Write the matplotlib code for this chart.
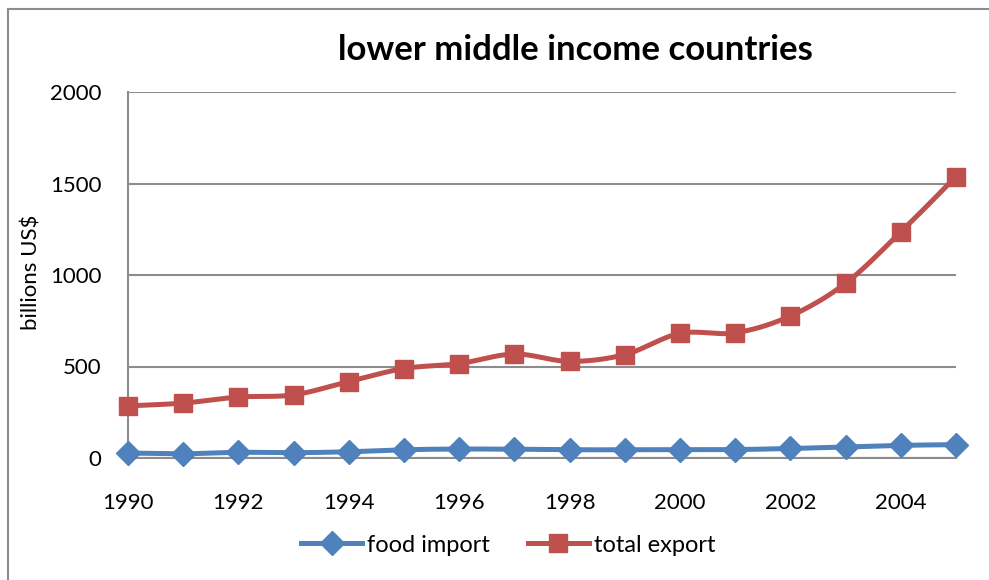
import numpy as np
import matplotlib.pyplot as plt
from matplotlib.lines import Line2D

years = list(range(1990, 2006))
food_import = [27, 23, 31, 29, 34, 45, 49, 48, 45, 45, 45, 46, 52, 60, 69, 73]
total_export = [285, 300, 333, 345, 418, 489, 516, 568, 528, 565, 681, 684, 776, 955, 1235, 1538]

BLUE = '#4F81BD'
RED = '#C0504D'
GRID = '#8C8C8C'

plt.rcParams['font.family'] = ['Lato', 'DejaVu Sans']


def smooth(x, y, n=20):
    # Catmull-Rom style curve through the points, like a spreadsheet "smoothed line"
    x = np.asarray(x, float)
    y = np.asarray(y, float)
    px = np.concatenate([[x[0]], x, [x[-1]]])
    py = np.concatenate([[y[0]], y, [y[-1]]])
    xs, ys = [], []
    t = np.linspace(0, 1, n, endpoint=False)
    for i in range(1, len(px) - 2):
        p0, p1, p2, p3 = [np.array([px[j], py[j]]) for j in (i - 1, i, i + 1, i + 2)]
        c1 = p1 + (p2 - p0) / 6
        c2 = p2 - (p3 - p1) / 6
        b = ((1 - t) ** 3)[:, None] * p1 + (3 * (1 - t) ** 2 * t)[:, None] * c1 \
            + (3 * (1 - t) * t ** 2)[:, None] * c2 + (t ** 3)[:, None] * p2
        xs.extend(b[:, 0])
        ys.extend(b[:, 1])
    xs.append(x[-1])
    ys.append(y[-1])
    return xs, ys


W, H = 989, 580
fig = plt.figure(figsize=(W / 100, H / 100), dpi=100)
ax = fig.add_axes([128 / W, 1 - 458 / H, (956 - 128) / W, (458 - 92) / H])

# outer chart frame: only the left and top edges show
fig.add_artist(Line2D([8 / W, 8 / W], [0, 1 - 9 / H], transform=fig.transFigure,
                      color=GRID, linewidth=1.5))
fig.add_artist(Line2D([8 / W, 1], [1 - 9 / H, 1 - 9 / H], transform=fig.transFigure,
                      color=GRID, linewidth=1.5))

for vals, col, mk, ms in [(food_import, BLUE, 'D', 12), (total_export, RED, 's', 13)]:
    sx, sy = smooth(years, vals)
    ax.plot(sx, sy, color=col, linewidth=3.6, solid_capstyle='round', zorder=3, clip_on=False)
    ax.plot(years, vals, linestyle='none', marker=mk, markersize=ms, color=col, zorder=4,
            clip_on=False)

# legend handles
ax.plot([], [], color=BLUE, linewidth=3.6, marker='D', markersize=12, label='food import')
ax.plot([], [], color=RED, linewidth=3.6, marker='s', markersize=13, label='total export')

ax.set_xlim(1990, 2005)
ax.set_ylim(0, 2000)
ax.set_xticks(range(1990, 2005, 2))
ax.set_yticks(range(0, 2001, 500))
ax.tick_params(length=0, labelsize=16)
ax.tick_params(axis='x', pad=25)
ax.tick_params(axis='y', pad=19)
ax.grid(axis='y', color=GRID, linewidth=1.5)
ax.set_axisbelow(True)
for side in ['top', 'right']:
    ax.spines[side].set_visible(False)
for side in ['left', 'bottom']:
    ax.spines[side].set_color(GRID)
    ax.spines[side].set_linewidth(1.5)

fig.text(32 / W, 1 - 272 / H, 'billions US$', rotation=90, ha='center', va='center', fontsize=16)
fig.text(575 / W, 1 - 50 / H, 'lower middle income countries', ha='center', va='center',
         fontsize=25, fontweight='bold')

handles, labels = ax.get_legend_handles_labels()
fig.legend(handles, labels, loc='center', bbox_to_anchor=(508 / W, 1 - 545 / H), ncol=2,
           frameon=False, fontsize=17, handlelength=2.6, handletextpad=0.2, columnspacing=1.6)

fig.savefig('out.png', dpi=100)
